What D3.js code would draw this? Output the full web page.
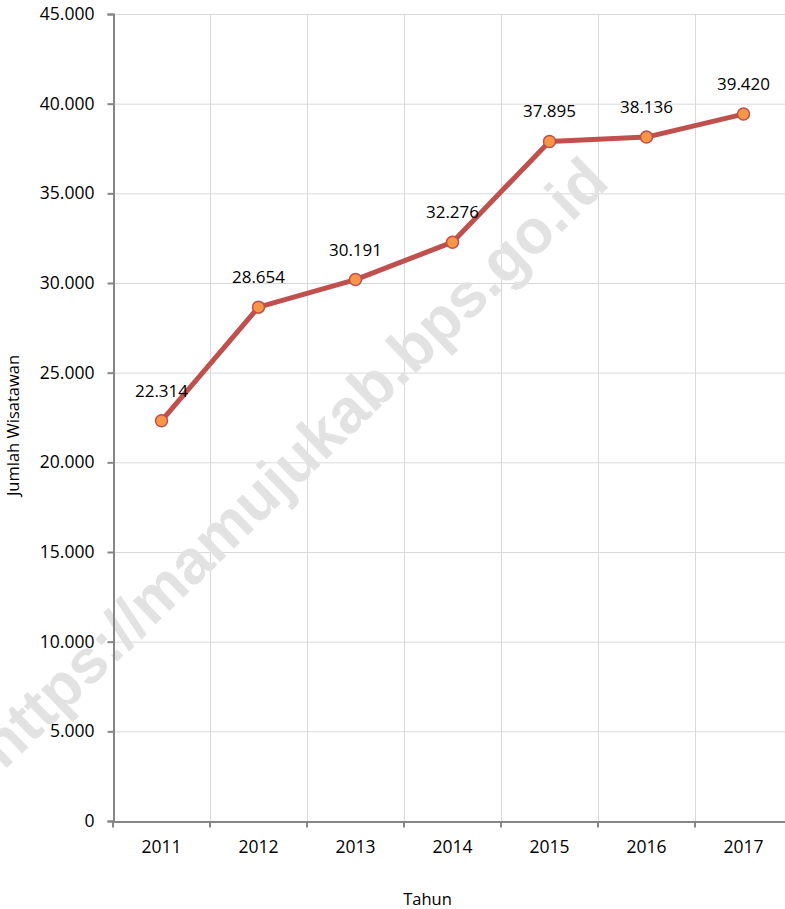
<html>
<head>
<script src="https://d3js.org/d3.v7.min.js"></script>
<style>
body { margin: 0; background: #fff; }
text { font-family: "Open Sans", sans-serif; }
</style>
</head>
<body>
<script>
// data
var years = ["2011", "2012", "2013", "2014", "2015", "2016", "2017"];
var visitors = [22314, 28654, 30191, 32276, 37895, 38136, 39420];
var yTicks = [0, 5000, 10000, 15000, 20000, 25000, 30000, 35000, 40000, 45000];

var W = 785, H = 909;
var plotL = 113, plotR = 792, plotT = 14, plotB = 821;

var fmt = function(v) { return d3.format(",")(v).replace(/,/g, "."); };

var svg = d3.select("body").append("svg")
    .attr("width", W)
    .attr("height", H);

var x = d3.scaleBand().domain(years).range([plotL, plotR]);
var y = d3.scaleLinear().domain([0, 45000]).range([plotB, plotT]);

// horizontal grid
svg.append("g").selectAll("line")
    .data(yTicks.slice(1))
  .enter().append("line")
    .attr("x1", plotL).attr("x2", plotR)
    .attr("y1", function(d) { return y(d) + 0.5; })
    .attr("y2", function(d) { return y(d) + 0.5; })
    .attr("stroke", "#d9d9d9").attr("stroke-width", 1);

// vertical grid at category boundaries
svg.append("g").selectAll("line")
    .data(years.slice(1))
  .enter().append("line")
    .attr("x1", function(d) { return x(d) + 0.5; })
    .attr("x2", function(d) { return x(d) + 0.5; })
    .attr("y1", plotT).attr("y2", plotB)
    .attr("stroke", "#d9d9d9").attr("stroke-width", 1);

// watermark
svg.append("text")
    .attr("transform", "translate(296,466) rotate(-44)")
    .attr("text-anchor", "middle")
    .attr("dominant-baseline", "middle")
    .style("font-family", "'Liberation Sans', Arial, sans-serif")
    .style("font-weight", "bold")
    .style("font-size", "62px")
    .attr("fill", "#e2e2e2")
    .text("https://mamujukab.bps.go.id");

// y axis
var yAxis = svg.append("g")
    .attr("transform", "translate(" + (plotL + 0.5) + ",0)")
    .call(d3.axisLeft(y).tickValues(yTicks).tickSize(6).tickPadding(13).tickFormat(fmt));
yAxis.select(".domain").attr("stroke", "#868686").attr("stroke-width", 2);
yAxis.selectAll(".tick line").attr("stroke", "#868686").attr("stroke-width", 2);
yAxis.selectAll(".tick text").style("font-size", "17.5px").attr("fill", "#000");

// x axis
var xAxis = svg.append("g")
    .attr("transform", "translate(0," + (plotB + 0.5) + ")")
    .call(d3.axisBottom(x).tickSize(0).tickPadding(19));
xAxis.select(".domain").attr("stroke", "#868686").attr("stroke-width", 2);
xAxis.selectAll(".tick text").style("font-size", "17.5px").attr("fill", "#000");
// boundary ticks
xAxis.selectAll(".bnd")
    .data(years)
  .enter().append("line")
    .attr("x1", function(d) { return x(d); })
    .attr("x2", function(d) { return x(d); })
    .attr("y1", 0).attr("y2", 6)
    .attr("stroke", "#868686").attr("stroke-width", 2);

// line
var line = d3.line()
    .x(function(d, i) { return x(years[i]) + x.bandwidth() / 2; })
    .y(function(d) { return y(d); });

svg.append("path")
    .datum(visitors)
    .attr("d", line)
    .attr("fill", "none")
    .attr("stroke", "#c0504d")
    .attr("stroke-width", 5)
    .attr("stroke-linejoin", "round");

svg.append("g").selectAll("circle")
    .data(visitors)
  .enter().append("circle")
    .attr("cx", function(d, i) { return x(years[i]) + x.bandwidth() / 2; })
    .attr("cy", function(d) { return y(d); })
    .attr("r", 6)
    .attr("fill", "#f79646")
    .attr("stroke", "#c0504d")
    .attr("stroke-width", 1.5);

// value labels
svg.append("g").selectAll("text")
    .data(visitors)
  .enter().append("text")
    .attr("x", function(d, i) { return x(years[i]) + x.bandwidth() / 2; })
    .attr("y", function(d) { return y(d) - 24; })
    .attr("text-anchor", "middle")
    .style("font-size", "17px")
    .attr("fill", "#000")
    .text(fmt);

// axis titles
svg.append("text")
    .attr("transform", "translate(19," + ((plotT + plotB) / 2 + 8) + ") rotate(-90)")
    .attr("text-anchor", "middle")
    .style("font-size", "16.5px")
    .text("Jumlah Wisatawan");

svg.append("text")
    .attr("x", (plotL + plotR) / 2 - 25)
    .attr("y", 905)
    .attr("text-anchor", "middle")
    .style("font-size", "16.5px")
    .text("Tahun");
</script>
</body>
</html>
